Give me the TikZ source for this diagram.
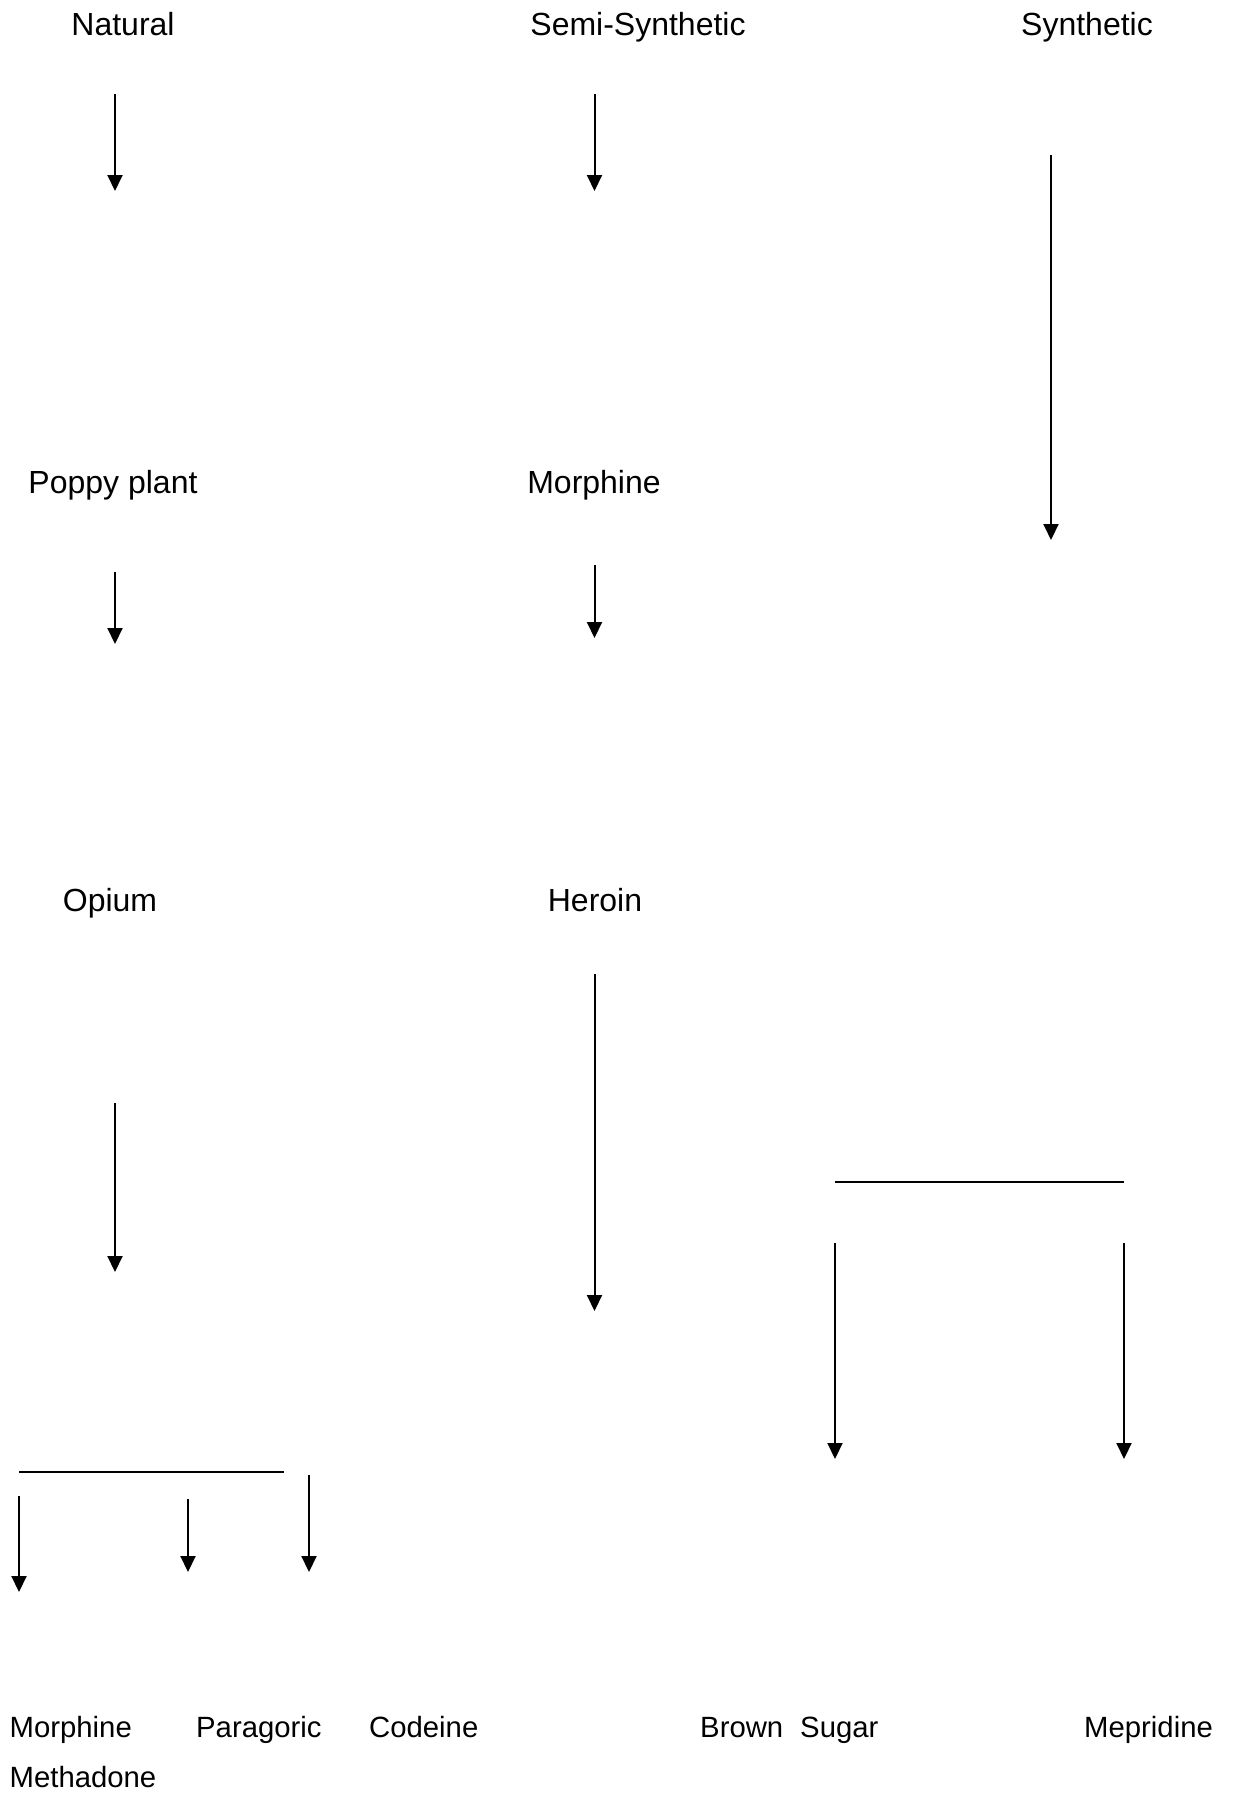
\documentclass[tikz,border=0pt]{standalone}
\usepackage{fontspec}
\setmainfont{Liberation Sans}
\usetikzlibrary{arrows.meta}
\begin{document}
\begin{tikzpicture}[x=1pt,y=-1pt,
  lbl/.style={inner sep=0pt,anchor=base,font=\fontsize{32}{38}\selectfont},
  lblw/.style={inner sep=0pt,anchor=base west,font=\fontsize{29.3}{35}\selectfont},
  arr/.style={line width=2pt,-{Triangle[length=16pt,width=15pt]}},
  bar/.style={line width=2pt}]
\useasboundingbox (0,0) rectangle (1235,1796);
% labels
\node[lbl] (nat) at (123,35) {Natural};
\node[lbl] (semi) at (638,35) {Semi-Synthetic};
\node[lbl] (syn) at (1087,35) {Synthetic};
\node[lbl] (poppy) at (113,493) {Poppy plant};
\node[lbl] (morph) at (594,493) {Morphine};
\node[lbl] (opium) at (110,911) {Opium};
\node[lbl] (heroin) at (595,911) {Heroin};
\node[lblw] (morph2) at (9.5,1737) {Morphine};
\node[lblw] (para) at (196,1737) {Paragoric};
\node[lblw] (cod) at (369,1737) {Codeine};
\node[lblw] (brown) at (700,1737) {Brown\hspace{17pt}Sugar};
\node[lblw] (mep) at (1084,1737) {Mepridine};
\node[lblw] (meth) at (9.5,1787) {Methadone};
% arrow end points
\coordinate (a1s) at (115,94);   \coordinate (a1e) at (115,191);
\coordinate (a2s) at (115,572);  \coordinate (a2e) at (115,644);
\coordinate (a3s) at (115,1103); \coordinate (a3e) at (115,1272);
\coordinate (b1s) at (594.5,94);   \coordinate (b1e) at (594.5,191);
\coordinate (b2s) at (594.5,565);  \coordinate (b2e) at (594.5,638);
\coordinate (b3s) at (594.5,974);  \coordinate (b3e) at (594.5,1311);
\coordinate (c1s) at (1051,155); \coordinate (c1e) at (1051,540);
\coordinate (h1l) at (835,1182); \coordinate (h1r) at (1124,1182);
\coordinate (c2s) at (835,1243); \coordinate (c2e) at (835,1459);
\coordinate (c3s) at (1124,1243); \coordinate (c3e) at (1124,1459);
\coordinate (h2l) at (19,1472); \coordinate (h2r) at (284,1472);
\coordinate (d1s) at (19,1496); \coordinate (d1e) at (19,1592);
\coordinate (d2s) at (188,1499); \coordinate (d2e) at (188,1572);
\coordinate (d3s) at (309,1475); \coordinate (d3e) at (309,1572);
% connectors
\draw[arr] (a1s) -- (a1e);
\draw[arr] (a2s) -- (a2e);
\draw[arr] (a3s) -- (a3e);
\draw[arr] (b1s) -- (b1e);
\draw[arr] (b2s) -- (b2e);
\draw[arr] (b3s) -- (b3e);
\draw[arr] (c1s) -- (c1e);
\draw[bar] (h1l) -- (h1r);
\draw[arr] (c2s) -- (c2e);
\draw[arr] (c3s) -- (c3e);
\draw[bar] (h2l) -- (h2r);
\draw[arr] (d1s) -- (d1e);
\draw[arr] (d2s) -- (d2e);
\draw[arr] (d3s) -- (d3e);
\end{tikzpicture}
\end{document}
